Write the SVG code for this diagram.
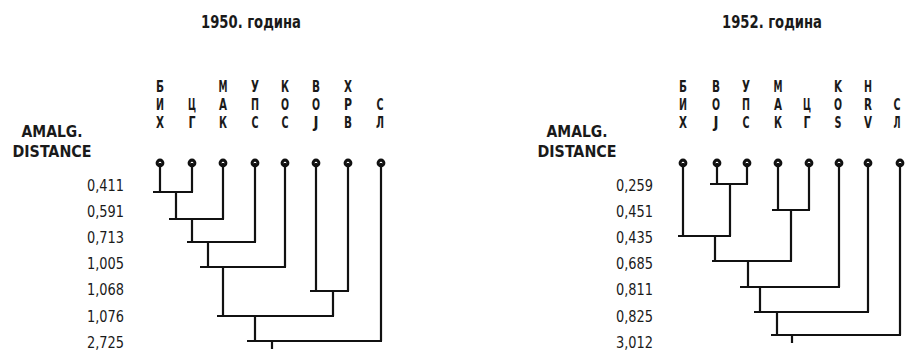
<svg xmlns="http://www.w3.org/2000/svg" width="905" height="355" viewBox="0 0 905 355">
<style>
text{font-family:"DejaVu Sans Condensed","DejaVu Sans",sans-serif;fill:#1a1a1a}
.t{font-size:18px;font-weight:bold;text-anchor:middle}
.h{font-size:15px;font-weight:bold;text-anchor:middle}
.n{font-size:16px;text-anchor:end}
.l{font-size:16px;font-weight:bold;text-anchor:middle}
.c path{fill:none;stroke:#111;stroke-width:2.2;stroke-linecap:butt}
.dot{fill:#111}
.hole{fill:#fff}
</style>
<defs>
<g id="leaf"><circle class="dot" r="4.4"/><circle class="hole" r="1.3"/></g>
</defs>
<text class="t" x="251" y="28" textLength="100" lengthAdjust="spacingAndGlyphs">1950. година</text>
<text class="t" x="772" y="28" textLength="100" lengthAdjust="spacingAndGlyphs">1952. година</text>
<g id="axis1950">
<text class="h" x="52" y="137" textLength="61" lengthAdjust="spacingAndGlyphs">AMALG.</text>
<text class="h" x="52" y="157" textLength="79" lengthAdjust="spacingAndGlyphs">DISTANCE</text>
<text class="n" x="124" y="191" textLength="37" lengthAdjust="spacingAndGlyphs">0,411</text>
<text class="n" x="124" y="217" textLength="37" lengthAdjust="spacingAndGlyphs">0,591</text>
<text class="n" x="124" y="243" textLength="37" lengthAdjust="spacingAndGlyphs">0,713</text>
<text class="n" x="124" y="269" textLength="37" lengthAdjust="spacingAndGlyphs">1,005</text>
<text class="n" x="124" y="295" textLength="37" lengthAdjust="spacingAndGlyphs">1,068</text>
<text class="n" x="124" y="322" textLength="37" lengthAdjust="spacingAndGlyphs">1,076</text>
<text class="n" x="124" y="348" textLength="37" lengthAdjust="spacingAndGlyphs">2,725</text>
</g>
<g id="axis1952">
<text class="h" x="577" y="137" textLength="61" lengthAdjust="spacingAndGlyphs">AMALG.</text>
<text class="h" x="577" y="157" textLength="79" lengthAdjust="spacingAndGlyphs">DISTANCE</text>
<text class="n" x="653" y="191" textLength="37" lengthAdjust="spacingAndGlyphs">0,259</text>
<text class="n" x="653" y="217" textLength="37" lengthAdjust="spacingAndGlyphs">0,451</text>
<text class="n" x="653" y="243" textLength="37" lengthAdjust="spacingAndGlyphs">0,435</text>
<text class="n" x="653" y="269" textLength="37" lengthAdjust="spacingAndGlyphs">0,685</text>
<text class="n" x="653" y="295" textLength="37" lengthAdjust="spacingAndGlyphs">0,811</text>
<text class="n" x="653" y="322" textLength="37" lengthAdjust="spacingAndGlyphs">0,825</text>
<text class="n" x="653" y="348" textLength="37" lengthAdjust="spacingAndGlyphs">3,012</text>
</g>
<g id="n50-bih"><text class="l" x="160" y="92" textLength="8" lengthAdjust="spacingAndGlyphs">Б</text><text class="l" x="160" y="110" textLength="8" lengthAdjust="spacingAndGlyphs">И</text><text class="l" x="160" y="128" textLength="8" lengthAdjust="spacingAndGlyphs">Х</text><use href="#leaf" x="160" y="163"/></g>
<g id="n50-cg"><text class="l" x="192" y="110" textLength="8" lengthAdjust="spacingAndGlyphs">Ц</text><text class="l" x="192" y="128" textLength="7" lengthAdjust="spacingAndGlyphs">Г</text><use href="#leaf" x="192" y="163"/></g>
<g id="n50-mak"><text class="l" x="223" y="92" textLength="9" lengthAdjust="spacingAndGlyphs">М</text><text class="l" x="223" y="110" textLength="8" lengthAdjust="spacingAndGlyphs">А</text><text class="l" x="223" y="128" textLength="8" lengthAdjust="spacingAndGlyphs">К</text><use href="#leaf" x="223" y="163"/></g>
<g id="n50-ups"><text class="l" x="255" y="92" textLength="8" lengthAdjust="spacingAndGlyphs">У</text><text class="l" x="255" y="110" textLength="8" lengthAdjust="spacingAndGlyphs">П</text><text class="l" x="255" y="128" textLength="7" lengthAdjust="spacingAndGlyphs">С</text><use href="#leaf" x="255" y="163"/></g>
<g id="n50-kos"><text class="l" x="285" y="92" textLength="8" lengthAdjust="spacingAndGlyphs">К</text><text class="l" x="285" y="110" textLength="8" lengthAdjust="spacingAndGlyphs">О</text><text class="l" x="285" y="128" textLength="7" lengthAdjust="spacingAndGlyphs">С</text><use href="#leaf" x="285" y="163"/></g>
<g id="n50-voj"><text class="l" x="316" y="92" textLength="8" lengthAdjust="spacingAndGlyphs">В</text><text class="l" x="316" y="110" textLength="8" lengthAdjust="spacingAndGlyphs">О</text><text class="l" x="316" y="128" textLength="5" lengthAdjust="spacingAndGlyphs">Ј</text><use href="#leaf" x="316" y="163"/></g>
<g id="n50-hrv"><text class="l" x="348" y="92" textLength="8" lengthAdjust="spacingAndGlyphs">Х</text><text class="l" x="348" y="110" textLength="8" lengthAdjust="spacingAndGlyphs">Р</text><text class="l" x="348" y="128" textLength="8" lengthAdjust="spacingAndGlyphs">В</text><use href="#leaf" x="348" y="163"/></g>
<g id="n50-sl"><text class="l" x="380" y="110" textLength="7" lengthAdjust="spacingAndGlyphs">С</text><text class="l" x="380" y="128" textLength="8" lengthAdjust="spacingAndGlyphs">Л</text><use href="#leaf" x="381" y="163"/></g>
<g id="n52-bih"><text class="l" x="683" y="92" textLength="8" lengthAdjust="spacingAndGlyphs">Б</text><text class="l" x="683" y="110" textLength="8" lengthAdjust="spacingAndGlyphs">И</text><text class="l" x="683" y="128" textLength="8" lengthAdjust="spacingAndGlyphs">Х</text><use href="#leaf" x="683" y="163"/></g>
<g id="n52-voj"><text class="l" x="716" y="92" textLength="8" lengthAdjust="spacingAndGlyphs">В</text><text class="l" x="716" y="110" textLength="8" lengthAdjust="spacingAndGlyphs">О</text><text class="l" x="716" y="128" textLength="5" lengthAdjust="spacingAndGlyphs">Ј</text><use href="#leaf" x="717" y="163"/></g>
<g id="n52-ups"><text class="l" x="746" y="92" textLength="8" lengthAdjust="spacingAndGlyphs">У</text><text class="l" x="746" y="110" textLength="8" lengthAdjust="spacingAndGlyphs">П</text><text class="l" x="746" y="128" textLength="7" lengthAdjust="spacingAndGlyphs">С</text><use href="#leaf" x="747" y="163"/></g>
<g id="n52-mak"><text class="l" x="778" y="92" textLength="9" lengthAdjust="spacingAndGlyphs">М</text><text class="l" x="778" y="110" textLength="8" lengthAdjust="spacingAndGlyphs">А</text><text class="l" x="778" y="128" textLength="8" lengthAdjust="spacingAndGlyphs">К</text><use href="#leaf" x="778" y="163"/></g>
<g id="n52-cg"><text class="l" x="807" y="110" textLength="8" lengthAdjust="spacingAndGlyphs">Ц</text><text class="l" x="807" y="128" textLength="7" lengthAdjust="spacingAndGlyphs">Г</text><use href="#leaf" x="809" y="163"/></g>
<g id="n52-kos"><text class="l" x="838" y="92" textLength="8" lengthAdjust="spacingAndGlyphs">K</text><text class="l" x="838" y="110" textLength="8" lengthAdjust="spacingAndGlyphs">O</text><text class="l" x="838" y="128" textLength="7" lengthAdjust="spacingAndGlyphs">S</text><use href="#leaf" x="839" y="163"/></g>
<g id="n52-hrv"><text class="l" x="868" y="92" textLength="8" lengthAdjust="spacingAndGlyphs">H</text><text class="l" x="868" y="110" textLength="8" lengthAdjust="spacingAndGlyphs">R</text><text class="l" x="868" y="128" textLength="8" lengthAdjust="spacingAndGlyphs">V</text><use href="#leaf" x="868" y="163"/></g>
<g id="n52-sl"><text class="l" x="897" y="110" textLength="7" lengthAdjust="spacingAndGlyphs">С</text><text class="l" x="897" y="128" textLength="7" lengthAdjust="spacingAndGlyphs">Л</text><use href="#leaf" x="900" y="163"/></g>
<g id="connectors" class="c">
<path d="M160 163V192M192 163V192M153 192H193"/>
<path d="M176 192V219M223 163V219M169 219H224"/>
<path d="M192 219V242M255 163V242M187 242H256"/>
<path d="M208 242V267M285 163V267M200 267H286"/>
<path d="M316 163V291M348 163V291M310 291H349"/>
<path d="M223 267V316M333 291V316M217 316H334"/>
<path d="M255 316V341M381 163V341M247 341H382"/>
<path d="M272 341V349"/>
<path d="M717 163V184M747 163V184M710 184H748"/>
<path d="M778 163V210M809 163V210M772 210H810"/>
<path d="M683 163V236M730 184V236M678 236H731"/>
<path d="M715 236V261M791 210V261M712 261H792"/>
<path d="M748 261V287M839 163V287M740 287H840"/>
<path d="M760 287V312M868 163V312M754 312H869"/>
<path d="M777 312V335M900 163V335M771 335H901"/>
<path d="M792 335V343"/>
</g>
</svg>
